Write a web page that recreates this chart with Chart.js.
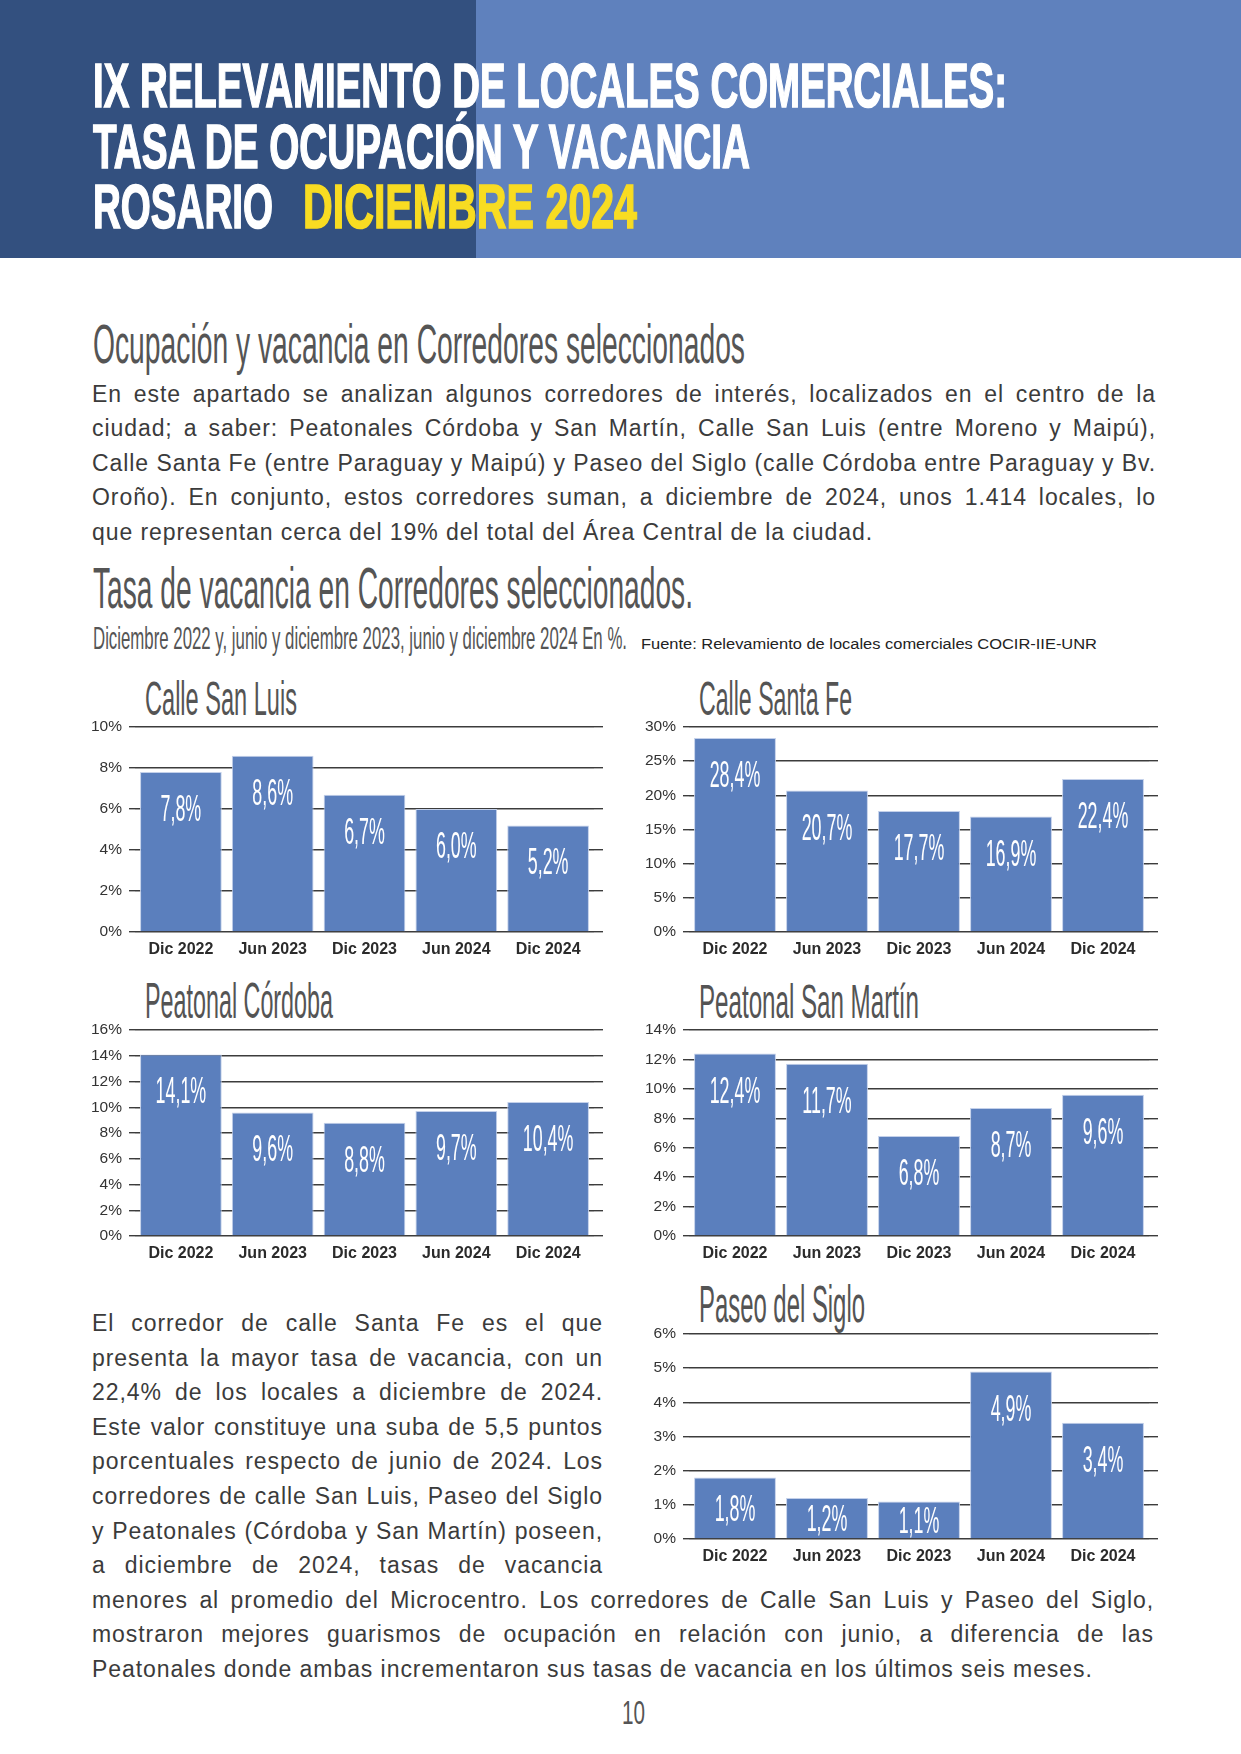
<!DOCTYPE html>
<html lang="es">
<head>
<meta charset="UTF-8">
<title>Tasa de vacancia en Corredores seleccionados</title>
<style>
  * { margin: 0; padding: 0; box-sizing: border-box; }
  body {
    width: 1241px;
    height: 1754px;
    position: relative;
    overflow: hidden;
    background: #fff;
  }
  .band { position: absolute; top: 0; height: 258px; }
  .tx { position: absolute; white-space: nowrap; line-height: 1; }
  .tx span { display: inline-block; transform-origin: 0 0; }
  .tx i { display: inline-block; width: 0; height: 0; }
  .heavy span { -webkit-text-stroke: 1.6px currentColor; }
  canvas { position: absolute; }
</style>
</head>
<body>
<div class="band" style="left:0;width:476px;background:#33507f"></div>
<div class="band" style="left:476px;width:765px;background:#5f81bd"></div>

<script src="https://cdn.jsdelivr.net/npm/chart.js@4.4.1/dist/chart.umd.min.js"></script>
<script>
// data
const periods = ["Dic 2022", "Jun 2023", "Dic 2023", "Jun 2024", "Dic 2024"];
const corridors = ["Calle San Luis", "Calle Santa Fe", "Peatonal Córdoba", "Peatonal San Martín", "Paseo del Siglo"];
const sanLuis = [7.8, 8.6, 6.7, 6.0, 5.2];
const santaFe = [28.4, 20.7, 17.7, 16.9, 22.4];
const cordoba = [14.1, 9.6, 8.8, 9.7, 10.4];
const sanMartin = [12.4, 11.7, 6.8, 8.7, 9.6];
const siglo = [1.8, 1.2, 1.1, 4.9, 3.4];
const axisMax = [10, 30, 16, 14, 6];
const axisStep = [2, 5, 2, 2, 1];

const NARROW = '"Liberation Sans Narrow", "Liberation Sans", Arial, sans-serif';
const SANS = '"Liberation Sans", Arial, sans-serif';
const BAR = "#5b7fbd";

// place a text by its baseline, optional fit to a width
function put(txt, o) {
  const d = document.createElement("div");
  d.className = "tx" + (o.heavy ? " heavy" : "");
  const fs = o.fs || o.cap / 0.716;
  d.style.left = o.x + "px";
  d.style.fontFamily = o.family || NARROW;
  d.style.fontSize = fs + "px";
  d.style.fontWeight = o.weight || "normal";
  d.style.color = o.color || "#555";
  if (o.ls) d.style.letterSpacing = o.ls + "px";
  const s = document.createElement("span");
  s.textContent = txt;
  const m = document.createElement("i");
  d.append(s, m);
  document.body.appendChild(d);
  const off = m.getBoundingClientRect().top - d.getBoundingClientRect().top;
  d.style.top = o.base - off + "px";
  const w = s.getBoundingClientRect().width;
  if (o.w) s.style.transform = "scaleX(" + o.w / w + ")";
  if (o.justify) {
    const gaps = (txt.match(/ /g) || []).length;
    if (gaps) s.style.wordSpacing = (o.justify - w) / gaps + "px";
  }
  return s;
}

// header
put("IX RELEVAMIENTO DE LOCALES COMERCIALES:", { x: 93, base: 107, cap: 45, w: 914, weight: "bold", color: "#fff", heavy: true });
put("TASA DE OCUPACIÓN Y VACANCIA", { x: 93, base: 168, cap: 45, w: 657, weight: "bold", color: "#fff", heavy: true });
put("ROSARIO", { x: 93, base: 228, cap: 45, w: 180, weight: "bold", color: "#fff", heavy: true });
put("DICIEMBRE 2024", { x: 303, base: 228, cap: 45, w: 334, weight: "bold", color: "#f8dc22", heavy: true });

// headings
put("Ocupación y vacancia en Corredores seleccionados", { x: 93, base: 363, cap: 40, w: 652 });
put("Tasa de vacancia en Corredores seleccionados.", { x: 93, base: 608, cap: 41.5, w: 600 });
put("Diciembre 2022 y, junio y diciembre 2023, junio y diciembre 2024 En %.", { x: 93, base: 649, cap: 23, w: 534 });
put("Fuente: Relevamiento de locales comerciales COCIR-IIE-UNR", { x: 641, base: 649, cap: 10.5, w: 456, family: SANS, color: "#222" });
put("10", { x: 622, base: 1724, cap: 24, w: 23 });

// body paragraphs
const BODY = 23;
const para1 = [
  "En este apartado se analizan algunos corredores de interés, localizados en el centro de la",
  "ciudad; a saber: Peatonales Córdoba y San Martín, Calle San Luis (entre Moreno y Maipú),",
  "Calle Santa Fe (entre Paraguay y Maipú) y Paseo del Siglo (calle Córdoba entre Paraguay y Bv.",
  "Oroño). En conjunto, estos corredores suman, a diciembre de 2024, unos 1.414 locales, lo",
  "que representan cerca del 19% del total del Área Central de la ciudad."
];
const para2 = [
  "El corredor de calle Santa Fe es el que",
  "presenta la mayor tasa de vacancia, con un",
  "22,4% de los locales a diciembre de 2024.",
  "Este valor constituye una suba de 5,5 puntos",
  "porcentuales respecto de junio de 2024. Los",
  "corredores de calle San Luis, Paseo del Siglo",
  "y Peatonales (Córdoba y San Martín) poseen,",
  "a diciembre de 2024, tasas de vacancia",
  "menores al promedio del Microcentro. Los corredores de Calle San Luis y Paseo del Siglo,",
  "mostraron mejores guarismos de ocupación en relación con junio, a diferencia de las",
  "Peatonales donde ambas incrementaron sus tasas de vacancia en los últimos seis meses."
];
const lines = [];
para1.forEach((t, k) => lines.push({ t, base: 401.5 + k * 34.5, W: k < 4 ? 1064 : null, target: k === 4 ? 784 : null }));
para2.forEach((t, k) => lines.push({ t, base: 1331 + k * 34.6, W: k < 8 ? 511 : k < 10 ? 1062 : null, target: k === 10 ? 1006 : null }));

const mc = document.createElement("canvas").getContext("2d");
mc.font = BODY + "px " + SANS;
lines.forEach(l => { l.nat = mc.measureText(l.t).width; l.len = [...l.t].length; });
let ls = 0, n = 0;
lines.forEach(l => { if (l.target) { ls += (l.target - l.nat) / l.len; n++; } });
ls /= n;
lines.forEach(l => { if (l.W) ls = Math.min(ls, (l.W - l.nat) / l.len); });
ls = Math.max(0, ls);
lines.forEach(l => {
  put(l.t, { x: 92, base: l.base, fs: BODY, family: SANS, color: "#3b3b3b", ls, justify: l.W || null });
});

// value labels inside the bars
const valueLabels = {
  id: "valueLabels",
  afterDatasetsDraw(chart) {
    const ctx = chart.ctx;
    const ds = chart.data.datasets[0];
    ctx.save();
    ctx.font = "36px " + NARROW;
    const sx = 50.6 / ctx.measureText("28,4%").width;
    ctx.fillStyle = "#fff";
    ctx.textAlign = "center";
    ctx.textBaseline = "alphabetic";
    chart.getDatasetMeta(0).data.forEach((bar, i) => {
      const h = bar.base - bar.y;
      const cy = bar.y + Math.min(36, h / 2);
      ctx.save();
      ctx.translate(bar.x, cy + 13);
      ctx.scale(sx, 1);
      ctx.fillText(ds.data[i].toFixed(1).replace(".", ",") + "%", 0, 0);
      ctx.restore();
    });
    ctx.restore();
  }
};

// plot areas on the page
const boxes = [
  { left: 135, top: 727, width: 459, height: 205, tx: 145, tb: 715, cap: 35, tw: 152 },
  { left: 689, top: 727, width: 460, height: 205, tx: 699, tb: 715, cap: 35, tw: 153 },
  { left: 135, top: 1030, width: 459, height: 206, tx: 145, tb: 1018, cap: 36, tw: 188 },
  { left: 689, top: 1030, width: 460, height: 206, tx: 699, tb: 1018, cap: 35, tw: 220 },
  { left: 689, top: 1334, width: 460, height: 205, tx: 699, tb: 1322, cap: 37, tw: 166 }
];
const series = [sanLuis, santaFe, cordoba, sanMartin, siglo];

function makeChart(i) {
  const b = boxes[i];
  const axisW = 60, rightW = 12, padTop = 20, axisH = 34;
  put(corridors[i], { x: b.tx, base: b.tb, cap: b.cap, w: b.tw, color: "#545454" });
  const cv = document.createElement("canvas");
  cv.width = axisW + b.width + rightW;
  cv.height = padTop + b.height + axisH;
  cv.style.left = b.left - axisW + "px";
  cv.style.top = b.top - padTop + "px";
  document.body.appendChild(cv);
  const gridColor = "#3c3c3c";
  new Chart(cv, {
    type: "bar",
    data: {
      labels: periods,
      datasets: [{
        data: series[i],
        backgroundColor: BAR,
        borderColor: "#c3d0ea",
        borderWidth: 1,
        barPercentage: 0.89,
        categoryPercentage: 1
      }]
    },
    options: {
      responsive: false,
      animation: false,
      devicePixelRatio: 1,
      layout: { padding: { top: padTop, left: 0, right: 0, bottom: 0 } },
      plugins: { legend: { display: false }, tooltip: { enabled: false } },
      scales: {
        x: {
          grid: { display: false, drawTicks: false },
          border: { display: false },
          ticks: { color: "#2b2b2b", font: { family: SANS, size: 16, weight: "bold" }, padding: 8, maxRotation: 0, autoSkip: false },
          afterFit: s => { s.height = axisH; }
        },
        y: {
          min: 0,
          max: axisMax[i],
          ticks: { stepSize: axisStep[i], callback: v => v + "%", color: "#333", font: { family: SANS, size: 15.5 }, padding: 7 },
          grid: { color: gridColor, lineWidth: 1.4, tickLength: 6 },
          border: { display: false },
          afterFit: s => { s.width = axisW; }
        },
        y2: {
          position: "right",
          min: 0,
          max: axisMax[i],
          ticks: { stepSize: axisStep[i], display: false },
          grid: { drawOnChartArea: false, color: gridColor, lineWidth: 1.4, tickLength: 9 },
          border: { display: false },
          afterFit: s => { s.width = rightW; }
        }
      }
    },
    plugins: [valueLabels]
  });
}

for (let i = 0; i < 5; i++) makeChart(i);
</script>
</body>
</html>
